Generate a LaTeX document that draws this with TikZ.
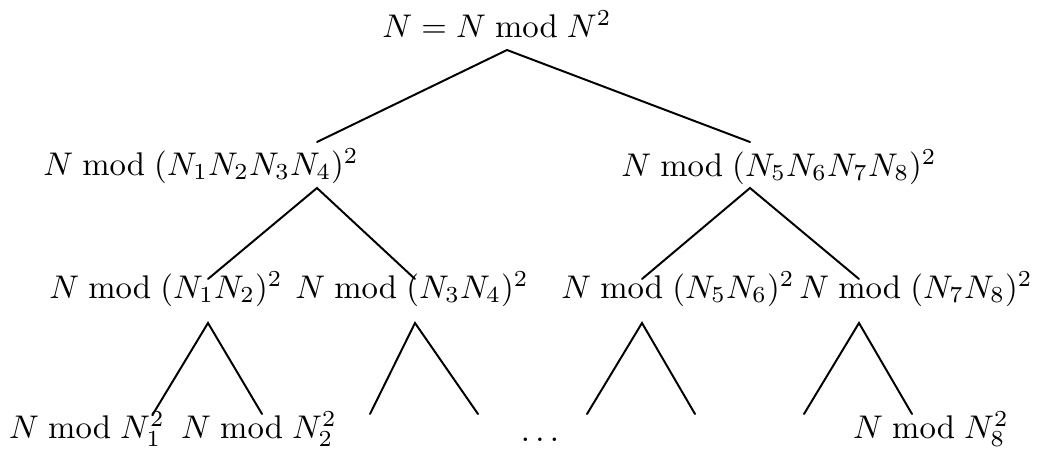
\documentclass[tikz,border=0pt]{standalone}
\tikzset{
  lbl/.style    = {anchor=base, inner sep=0pt},
  branch/.style = {semithick, line cap=round},
}
\begin{document}
\begin{tikzpicture}[x=0.305pt, y=-0.305pt]
  \useasboundingbox (0,0) rectangle (1037,459);

  % labels
  \node[lbl] (top) at (497,37) {$N = N \bmod N^2$};
  \node[lbl] (a) at (201,175) {$N \bmod (N_1N_2N_3N_4)^2$};
  \node[lbl] (b) at (779,176) {$N \bmod (N_5N_6N_7N_8)^2$};
  \node[lbl] (aa) at (166,298) {$N \bmod (N_1N_2)^2$};
  \node[lbl] (ab) at (412,298) {$N \bmod (N_3N_4)^2$};
  \node[lbl] (ba) at (678,298) {$N \bmod (N_5N_6)^2$};
  \node[lbl] (bb) at (916,298) {$N \bmod (N_7N_8)^2$};
  \node[lbl] (leaf1) at (87,438) {$N \bmod N_1^2$};
  \node[lbl] (leaf2) at (259,438) {$N \bmod N_2^2$};
  \node[lbl] (dots) at (540,441) {$\ldots$};
  \node[lbl] (leaf8) at (931,438) {$N \bmod N_8^2$};

  % joints of the tree
  \coordinate (j0) at (507,50);
  \coordinate (ja-in) at (317,142);  \coordinate (ja) at (317,188);
  \coordinate (jb-in) at (750,142);  \coordinate (jb) at (750,188);
  \coordinate (jaa-in) at (208,279); \coordinate (jaa) at (208,323);
  \coordinate (jab-in) at (415,279); \coordinate (jab) at (415,323);
  \coordinate (jba-in) at (642,279); \coordinate (jba) at (642,323);
  \coordinate (jbb-in) at (859,279); \coordinate (jbb) at (859,323);
  \coordinate (e1) at (153,414); \coordinate (e2) at (262,414);
  \coordinate (e3) at (370,414); \coordinate (e4) at (478,414);
  \coordinate (e5) at (587,414); \coordinate (e6) at (695,414);
  \coordinate (e7) at (804,414); \coordinate (e8) at (912,414);

  \draw[branch] (ja-in) -- (j0) -- (jb-in);
  \draw[branch] (jaa-in) -- (ja) -- (jab-in);
  \draw[branch] (jba-in) -- (jb) -- (jbb-in);
  \draw[branch] (e1) -- (jaa) -- (e2);
  \draw[branch] (e3) -- (jab) -- (e4);
  \draw[branch] (e5) -- (jba) -- (e6);
  \draw[branch] (e7) -- (jbb) -- (e8);
\end{tikzpicture}
\end{document}
